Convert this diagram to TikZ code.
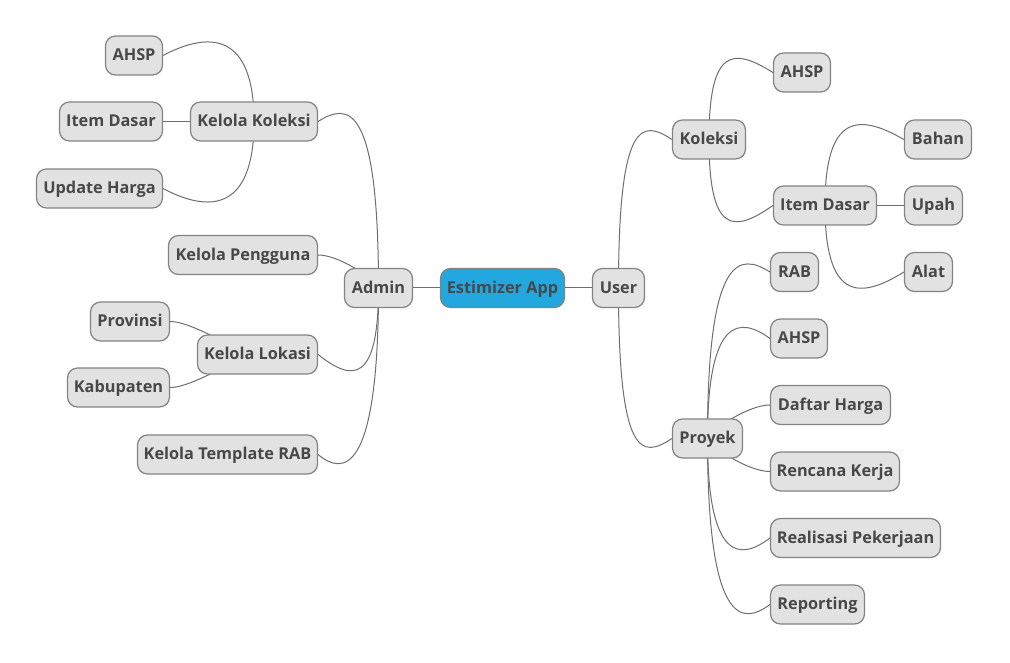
\documentclass[tikz,border=0pt]{standalone}
\usepackage{fontspec}
\setmainfont{Open Sans}
\usetikzlibrary{calc,backgrounds}
\definecolor{nodefill}{HTML}{E2E2E2}
\definecolor{nodeline}{HTML}{838383}
\definecolor{rootfill}{HTML}{22A7DF}
\definecolor{txt}{HTML}{484848}
\definecolor{linec}{HTML}{6E6E6E}
\newcommand\conn[4]{\draw[edge] (#1.center) .. controls ($(#1.center |- #2)+(0,#4)$) and ($(#2)+(#3,#4)$) .. (#2);}
\begin{document}
\begin{tikzpicture}[x=1pt,y=-1pt,
  box/.style={draw=nodeline,line width=1.2pt,fill=nodefill,rounded corners=10pt,
    minimum height=39pt,inner sep=0pt,text=txt,text height=11.6pt,text depth=1.2pt,
    font=\fontsize{16.3}{18}\selectfont\bfseries},
  rootbox/.style={box,fill=rootfill},
  edge/.style={draw=linec,line width=1pt}]
\useasboundingbox (0,0) rectangle (1010,663);
% center
\node[rootbox,minimum width=124pt] (root) at (502.5,288) {Estimizer App};
\node[box,minimum width=68pt] (adm) at (378.5,288) {Admin};
\node[box,minimum width=52pt] (usr) at (618.5,288) {User};
% left
\node[box,minimum width=127pt] (kk) at (254,121.5) {Kelola Koleksi};
\node[box,minimum width=57pt] (ahspL) at (134,55.5) {AHSP};
\node[box,minimum width=103pt] (idL) at (111,121.5) {Item Dasar};
\node[box,minimum width=126pt] (uh) at (99.5,188.5) {Update Harga};
\node[box,minimum width=149pt] (kp) at (243,255) {Kelola Pengguna};
\node[box,minimum width=120pt] (kl) at (257.5,354.5) {Kelola Lokasi};
\node[box,minimum width=79pt] (prov) at (130,321.5) {Provinsi};
\node[box,minimum width=102pt] (kab) at (118.5,387.5) {Kabupaten};
\node[box,minimum width=180pt] (ktr) at (227.5,454.5) {Kelola Template RAB};
% right
\node[box,minimum width=73pt] (kol) at (709,139.5) {Koleksi};
\node[box,minimum width=57pt] (ahspR) at (802,72.5) {AHSP};
\node[box,minimum width=103pt] (idR) at (825,205.5) {Item Dasar};
\node[box,minimum width=67pt] (bahan) at (938,139.5) {Bahan};
\node[box,minimum width=58pt] (upah) at (933.5,205.5) {Upah};
\node[box,minimum width=48pt] (alat) at (928.5,272) {Alat};
\node[box,minimum width=70pt] (pry) at (707.5,438.5) {Proyek};
\node[box,minimum width=48pt] (rab) at (794.5,272) {RAB};
\node[box,minimum width=57pt] (ahspP) at (799,338.5) {AHSP};
\node[box,minimum width=120pt] (dh) at (830.5,405) {Daftar Harga};
\node[box,minimum width=129pt] (rk) at (835,471.5) {Rencana Kerja};
\node[box,minimum width=170pt] (rp) at (855.5,538) {Realisasi Pekerjaan};
\node[box,minimum width=94pt] (rep) at (817.5,604.5) {Reporting};
\begin{scope}[on background layer]
\draw[edge] (root.center) -- (adm.center);
\draw[edge] (root.center) -- (usr.center);
\draw[edge] (kk.center) -- (idL.center);
\draw[edge] (idR.center) -- (upah.center);
\conn{kk}{ahspL.east}{45}{-24}
\conn{kk}{uh.east}{45}{24}
\conn{adm}{kk.east}{30}{-19}
\conn{adm}{kl.east}{35}{28}
\conn{adm}{ktr.east}{25}{21}
\conn{usr}{kol.west}{-30}{-20}
\conn{usr}{pry.west}{-30}{20}
\conn{kol}{ahspR.west}{-40}{-25}
\conn{kol}{idR.west}{-40}{28}
\conn{idR}{bahan.west}{-45}{-26}
\conn{idR}{alat.west}{-45}{28}
\conn{pry}{rab.west}{-30}{-19}
\conn{pry}{ahspP.west}{-30}{-22}
\conn{pry}{rp.west}{-30}{23}
\conn{pry}{rep.west}{-28}{21}
\draw[edge] (adm.center) .. controls ($(adm.center)+(-8,-12)$) and ($(kp.east)+(20,0)$) .. (kp.east);
\draw[edge] (kl.center) .. controls ($(kl.center)+(-27,-6)$) and ($(prov.east)+(22,0)$) .. (prov.east);
\draw[edge] (kl.center) .. controls ($(kl.center)+(-27,6)$) and ($(kab.east)+(22,0)$) .. (kab.east);
\draw[edge] (pry.center) .. controls ($(pry.center)+(8,-12)$) and ($(dh.west)+(-20,0)$) .. (dh.west);
\draw[edge] (pry.center) .. controls ($(pry.center)+(8,12)$) and ($(rk.west)+(-20,0)$) .. (rk.west);
\end{scope}
\end{tikzpicture}
\end{document}
